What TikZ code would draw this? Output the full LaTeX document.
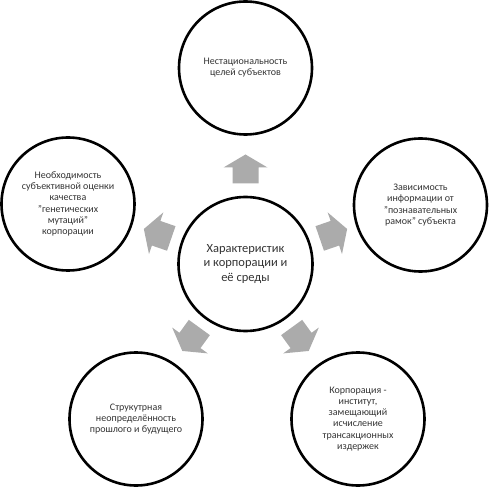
\documentclass[tikz,border=0pt]{standalone}
\usepackage{fontspec}
\setmainfont{Carlito}
\usetikzlibrary{positioning}

\begin{document}
\begin{tikzpicture}[
    x=1pt, y=1pt,
    hub/.style={
        draw,
        circle,
        line width=2.6pt,
        minimum size=134pt,
        align=center,
        text=black!80,
        font=\fontsize{12.5}{14.5}\selectfont
    },
    factor/.style={
        draw,
        circle,
        line width=2.6pt,
        minimum size=133pt,
        align=center,
        text=black!80,
        font=\fontsize{10}{11.2}\selectfont
    },
    blockarrow/.pic={
        \fill[black!33] (-14.5,-13) -- (1.5,-13) -- (1.5,-22) -- (14.5,0)
            -- (1.5,22) -- (1.5,13) -- (-14.5,13) -- cycle;
    }
]
\useasboundingbox (-245.5,-228) rectangle (245.5,264);

% Centre
\node[hub] (core) at (0,0) {Характеристик\\и корпорации и\\её среды};

% Outer factors
\node[factor] (goals) at (0,196) {Нестациональность\\целей субъектов};
\node[factor] (frames) at (175,59) {Зависимость\\информации от\\"познавательных\\рамок" субъекта};
\node[factor] (costs) at (112.5,-155) {Корпорация -\\институт,\\замещающий\\исчисление\\трансакционных\\издержек};
\node[factor] (past) at (-109.5,-155) {Струкутрная\\неопределённость\\прошлого и будущего};
\node[factor] (mutation) at (-177.5,60) {Необходимость\\субъективной оценки\\качества\\"генетических\\мутаций"\\корпорации};

% Block arrows from the centre
\pic[rotate=90] (arrgoals) at (90:95) {blockarrow};
\pic[rotate=19] (arrframes) at (19:93) {blockarrow};
\pic[rotate=-54] (arrcosts) at (-54:93) {blockarrow};
\pic[rotate=-126] (arrpast) at (-126:93) {blockarrow};
\pic[rotate=161] (arrmutation) at (161:93) {blockarrow};

\end{tikzpicture}
\end{document}
